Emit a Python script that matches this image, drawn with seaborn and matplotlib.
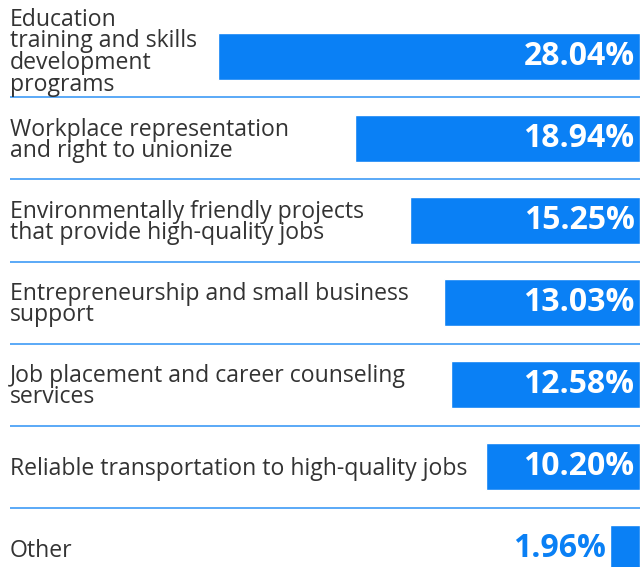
import matplotlib
matplotlib.use("Agg")
import matplotlib.pyplot as plt
import matplotlib.transforms as mtransforms
import seaborn as sns
import pandas as pd

categories = [
    "Education\ntraining and skills\ndevelopment\nprograms",
    "Workplace representation\nand right to unionize",
    "Environmentally friendly projects\nthat provide high-quality jobs",
    "Entrepreneurship and small business\nsupport",
    "Job placement and career counseling\nservices",
    "Reliable transportation to high-quality jobs",
    "Other",
]
values = [28.04, 18.94, 15.25, 13.03, 12.58, 10.20, 1.96]
value_labels = ["28.04%", "18.94%", "15.25%", "13.03%", "12.58%", "10.20%", "1.96%"]

BAR = "#0A80F5"
LINE = "#4DA3F7"
TEXT = "#333333"

sns.set_theme(style="white")
plt.rcParams["font.family"] = ["Open Sans", "DejaVu Sans"]

df = pd.DataFrame({"cat": categories, "val": values})

W, H = 640, 567
fig = plt.figure(figsize=(W / 100, H / 100), dpi=100)
ax = fig.add_axes([0, 0, 1, 1])

sns.barplot(data=df, x="val", y="cat", orient="h", color=BAR, width=0.57,
            saturation=1, ax=ax)

px_per = 15.06
ax.set_xlim(W / px_per, 0)
row = 82.0
c0 = 56.5
ax.set_ylim((H - c0) / row, -c0 / row)

for s in ax.spines.values():
    s.set_visible(False)
ax.set_xticks([])
ax.set_yticks([])
ax.set_xlabel("")
ax.set_ylabel("")

trans = mtransforms.blended_transform_factory(ax.transAxes, ax.transData)
for i, (cat, v, lab) in enumerate(zip(categories, values, value_labels)):
    ax.text(10 / W, i + (-0.05 if i == 0 else 0.025), cat, transform=trans,
            ha="left", va="center", fontsize=16.6, color=TEXT, linespacing=0.88)
    if v > 5:
        ax.annotate(lab, xy=(0, i), xytext=(-4, 0), textcoords="offset points",
                    ha="right", va="center", fontsize=23, fontweight="bold",
                    color="white")
    else:
        ax.annotate(lab, xy=(v, i), xytext=(-3, 0), textcoords="offset points",
                    ha="right", va="center", fontsize=23, fontweight="bold",
                    color=BAR)
    if i < len(categories) - 1:
        ax.plot([10 / W, 1], [i + 0.5, i + 0.5], transform=trans, color=LINE,
                lw=1.3, solid_capstyle="butt")

fig.savefig("out.png", dpi=100)
